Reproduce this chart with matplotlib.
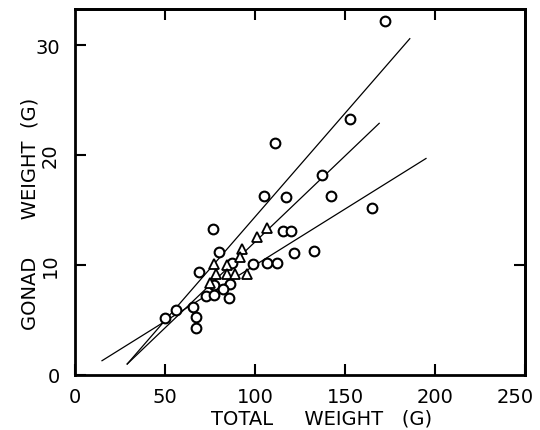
import matplotlib
matplotlib.use("Agg")
import matplotlib.pyplot as plt
import numpy as np

# circles: total weight (g), gonad weight (g)
circle_x = [172, 153, 111, 137, 105, 117, 142, 165, 76.5, 115.6, 120, 80, 121.5, 133,
            87, 99, 106.7, 112, 69, 77, 86, 82, 73, 77, 85.6, 65.5, 56, 50, 67, 67]
circle_y = [32.2, 23.3, 21.1, 18.2, 16.3, 16.2, 16.3, 15.2, 13.3, 13.1, 13.1, 11.2, 11.1, 11.3,
            10.2, 10.1, 10.2, 10.2, 9.4, 8.2, 8.3, 7.8, 7.2, 7.3, 7.0, 6.2, 5.9, 5.2, 5.3, 4.3]

# triangles
tri_x = [77.2, 84.4, 78.3, 84.4, 88.9, 95.6, 75, 92.8, 91.7, 101, 106.7]
tri_y = [10.1, 10.0, 9.2, 9.2, 9.2, 9.2, 8.4, 11.5, 10.7, 12.6, 13.4]

# fitted lines (end points)
lineA_x = [29, 186]; lineA_y = [1.0, 30.6]
lineB_x = [29, 169]; lineB_y = [1.0, 22.9]
lineC_x = [15, 195]; lineC_y = [1.3, 19.7]

xticks = [0, 50, 100, 150, 200, 250]
yticks = [0, 10, 20, 30]

W, H = 540, 431
fig = plt.figure(figsize=(W/100, H/100), dpi=100)
ax = fig.add_axes([75/W, 1-376/H, 450/W, 366/H])

for lx, ly in [(lineA_x, lineA_y), (lineB_x, lineB_y), (lineC_x, lineC_y)]:
    ax.plot(lx, ly, color='black', lw=0.9)

ax.plot(circle_x, circle_y, 'o', mfc='white', mec='black', mew=1.5, ms=7, ls='none')
ax.plot(tri_x, tri_y, '^', mfc='white', mec='black', mew=1.3, ms=7, ls='none')

ax.set_xlim(0, 250)
ax.set_ylim(0, 33.3)
ax.set_xticks(xticks)
# last label drawn separately so it stays inside the figure
ax.set_xticklabels([str(t) if t != xticks[-1] else '' for t in xticks], fontsize=14)
ax.annotate(str(xticks[-1]), xy=(xticks[-1], 0), xycoords=('data', 'axes fraction'),
            xytext=(-7, -9), textcoords='offset points', ha='center', va='top', fontsize=14)
ax.set_yticks(yticks)
ax.set_yticklabels([str(t) for t in yticks], fontsize=14)
for t in ax.get_yticklabels():
    if t.get_text() in ('10', '20'):
        t.set_rotation(90)
        t.set_va('center')
ax.tick_params(direction='in', length=8, width=1.5, pad=9, colors='black')
ax.tick_params(axis='y', pad=11)

for s in ax.spines.values():
    s.set_linewidth(2)
    s.set_color('black')

top = ax.secondary_xaxis('top')
top.set_xticks([50, 100, 150, 200])
top.set_xticklabels([])
top.tick_params(direction='in', length=8, width=1.5)
top.spines['top'].set_linewidth(2)
right = ax.secondary_yaxis('right')
right.set_yticks([10])
right.set_yticklabels([])
right.tick_params(direction='in', length=8, width=1.5)
right.spines['right'].set_linewidth(2)

fig.text(322/W, 1-419/H, "TOTAL     WEIGHT   (G)", fontsize=14, ha='center', va='center')
fig.text(30/W, 1-214/H, "GONAD      WEIGHT  (G)", fontsize=14, ha='center', va='center',
         rotation=90)

fig.savefig("out.png", dpi=100)
